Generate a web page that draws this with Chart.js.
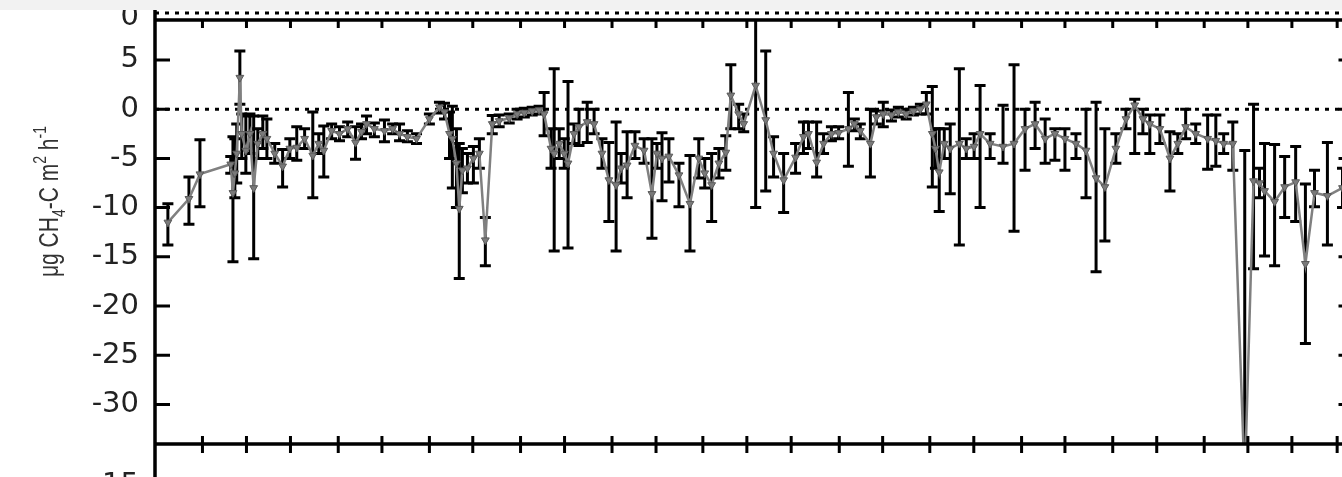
<!DOCTYPE html>
<html><head><meta charset="utf-8">
<script src="https://cdn.jsdelivr.net/npm/chart.js@4.4.1/dist/chart.umd.min.js"></script>
<style>
html,body{margin:0;padding:0;background:#fff;overflow:hidden;width:1342px;height:477px}
#wrap{position:absolute;left:0;top:0;width:1362px;height:477px}
#band{position:absolute;left:0;top:0;width:1342px;height:10px;background:#f2f2f2;z-index:2}
</style></head><body>
<div id="band"></div>
<div id="wrap"><canvas id="c" width="1362" height="477"></canvas></div>
<script>
// day of record (x), flux (y) and error bar limits
const DAYS = [4.1,10.8,14.3,24.1,24.8,25.4,26.0,27.0,27.6,28.9,30.2,31.4,32.7,34.3,35.6,38.1,40.6,42.9,45.1,47.6,50.2,52.1,53.7,56.2,58.7,61.3,63.8,65.7,67.3,69.8,73.0,75.6,77.8,80.3,83.2,87.3,90.5,92.1,93.7,94.6,95.9,96.8,97.8,99.4,101.3,103.2,105.1,107.3,109.5,112.7,115.2,117.5,120.0,122.2,123.8,
126.0,127.0,128.6,130.2,131.4,133.3,134.9,137.5,139.7,142.2,144.4,146.7,148.3,150.2,152.7,155.6,158.1,159.7,161.3,163.5,166.7,170.2,173.0,174.9,177.1,179.4,181.6,183.2,185.7,187.3,191.1,194.3,196.8,200.0,203.8,206.3,207.9,210.5,212.7,215.2,217.5,220.6,222.5,224.4,227.6,229.5,231.7,234.3,236.5,239.0,241.3,243.5,245.4,
247.3,248.3,249.5,251.1,253.0,255.9,258.1,260.6,262.5,265.7,269.8,273.3,276.8,280.0,283.2,286.3,289.5,293.0,296.2,299.4,302.2,305.7,308.9,311.7,314.3,316.5,319.7,322.9,325.4,327.9,331.1,334.9,337.5,340.0,342.9,346.7,349.5,351.4,353.0,356.2,359.4,362.9,366.0,368.9,373.0,377.8];
const FLUX = [-11.5,-9.1,-6.6,-5.6,-8.5,-6.5,-4.5,3.2,-2.5,-4.2,-2.5,-8.0,-3.5,-2.5,-3.0,-4.5,-5.8,-4.0,-3.9,-3.0,-4.7,-3.5,-4.2,-2.2,-2.5,-2.0,-3.4,-2.3,-1.5,-2.0,-2.2,-2.0,-2.5,-2.8,-3.0,-1.0,0.2,-0.3,-2.5,-3.0,-5.5,-10.1,-6.2,-6.0,-5.0,-4.5,-13.3,-1.5,-1.2,-0.9,-0.5,-0.35,-0.2,-0.1,-0.5,
-4.0,-4.5,-3.5,-4.5,-5.5,-2.5,-1.8,-1.3,-1.5,-4.5,-7.2,-7.7,-6.0,-5.7,-3.7,-4.2,-8.6,-4.5,-5.0,-4.8,-6.7,-9.6,-5.0,-6.5,-7.7,-5.5,-4.4,1.4,-0.5,-1.5,2.4,-1.1,-4.5,-7.2,-4.9,-2.8,-2.5,-5.4,-3.5,-2.5,-2.4,-2.0,-1.5,-2.2,-3.5,-0.8,-0.5,-0.6,-0.3,-0.5,-0.2,0.0,0.5,
-2.5,-4.0,-6.4,-3.5,-4.0,-3.5,-4.0,-3.8,-2.5,-3.5,-3.8,-3.5,-2.0,-1.5,-3.0,-2.5,-3.0,-3.5,-4.2,-7.0,-7.9,-4.0,-1.0,0.4,-1.0,-1.5,-2.0,-5.0,-3.5,-1.8,-2.5,-3.0,-3.2,-3.5,-3.5,-38,-7.3,-7.5,-8.3,-9.4,-7.9,-7.4,-15.7,-8.5,-8.8,-8.0];
const ERR_LO = [-13.8,-11.7,-9.9,-6.5,-15.5,-9,-7.5,0.5,-5,-6.5,-4.5,-15.2,-5,-4,-5,-5.5,-7.9,-5,-5.2,-4,-9,-4.5,-6.9,-3,-3.2,-2.8,-5.1,-3,-2.5,-2.8,-3.3,-2.5,-3.2,-3.3,-3.5,-1.5,-0.4,-1,-5,-8,-10,-17.2,-8.5,-7.5,-7.5,-6,-15.9,-2.5,-1.8,-1.4,-1,-0.8,-0.6,-0.5,-2.7,
-6,-14.4,-5,-6,-14.1,-3.5,-3.7,-3.4,-2.5,-6,-11.4,-14.4,-7.5,-9,-5,-5.5,-13.1,-6,-9.3,-7.4,-9.9,-14.4,-7,-8,-11.4,-7,-6.2,-2,-2,-2.3,-10,-8.3,-6.9,-10.5,-6.5,-4.5,-4,-6.9,-4.5,-3.2,-3,-5.8,-2.2,-3,-6.9,-1.5,-1.8,-1.2,-0.8,-1,-0.6,-0.5,-0.5,
-7.9,-6,-10.4,-5,-8.6,-13.8,-5,-5,-10,-5,-5.5,-12.4,-6.2,-4,-5.5,-5.2,-6.2,-5,-9,-16.5,-13.4,-5.5,-2,-4.5,-2.5,-4.5,-3.5,-8.3,-4.5,-3,-3.5,-6.1,-5.8,-4.5,-6.2,-45,-16.2,-9,-14.9,-15.9,-11,-11.4,-23.8,-9.9,-13.8,-10];
const ERR_HI = [-9.6,-6.9,-3.1,-4.8,-2.8,-3,-1.5,5.9,-0.5,-0.7,-0.5,-0.7,-2,-0.7,-1,-3.5,-4.1,-3,-1.8,-2,-0.3,-2.5,-1.7,-1.5,-1.8,-1.3,-1.8,-1.5,-0.7,-1.4,-1.1,-1.5,-1.5,-2.2,-2.5,-0.5,0.7,0.6,-0.3,0.3,-2,-3.5,-4,-4.5,-3.8,-3,-11,-0.65,-0.6,-0.5,0,0.1,0.2,0.3,1.7,
-2,4.1,-2,-3,2.8,-1.5,0,0.7,0,-3,-3.4,-1.3,-4.5,-2.3,-2.3,-3,-3,-3.5,-2.4,-3,-5.5,-4.7,-3,-5,-4.5,-4,-2.7,4.5,0.5,-0.5,9.5,5.9,-2.8,-4.5,-3.5,-1.3,-1.3,-1.3,-2.5,-1.8,-1.8,1.7,-1,-1.5,0,-0.2,0.7,-0.1,0.2,0,0.2,0.5,1.7,
2.3,-2,-2,-2,-1.5,4.1,-3,-2.5,2.4,-2.5,0.4,4.5,0,0.7,-1,-2,-2,-2.5,0,0.7,-2,-2.5,0,1,0,-0.6,-0.6,-2.3,-2.5,0,-1.5,-0.6,-0.6,-2.5,-1.3,-4.2,0.5,-6,-3.5,-3.6,-4.8,-3.8,-7.6,-6.2,-3.4,-6];
const Y_TICKS = [-30,-25,-20,-15,-10,-5,0,5];
const X_TICKS = [15.1,29.1,43.1,58.3,72.2,87.3,101.1,116.3,130.3,145.4,159.4,174.3,188.3,202.4,217.7,231.5,246.5,260.5,275.7,289.5,304.7,318.7,333.8,347.7,361.7,376.1];
const X_RANGE = [0, 381.3];
const Y_RANGE = [-34.0, 9.05];
const Y_TITLE_PARTS = [['μg CH',0],['4',1],['-C m',0],['2',-1],[' h',0],['-1',-1]];
const UPPER_LABEL = '0';
const LOWER_LABEL = '15';

const flux = DAYS.map((d,i)=>({x:d,y:FLUX[i]}));
const bars = [];
const caps = [];
DAYS.forEach((d,i)=>{
  bars.push({x:d,y:ERR_LO[i]},{x:d,y:ERR_HI[i]},{x:d,y:null});
  caps.push({x:d,y:ERR_LO[i]},{x:d,y:ERR_HI[i]});
});
const zero = [{x:X_RANGE[0],y:0},{x:X_RANGE[1],y:0}];

const extras = {
  id:'extras',
  afterDraw(chart){
    const {ctx, chartArea:a, scales:{x,y}} = chart;
    ctx.save();
    ctx.strokeStyle='#000';
    ctx.lineCap='butt';
    ctx.lineWidth=3;
    ctx.beginPath();
    X_TICKS.forEach(t=>{const px=x.getPixelForValue(t);
      ctx.moveTo(px,a.top); ctx.lineTo(px,a.top+8);
      ctx.moveTo(px,a.bottom-8); ctx.lineTo(px,a.bottom+9);});
    Y_TICKS.forEach(t=>{const py=y.getPixelForValue(t);
      ctx.moveTo(a.left,py); ctx.lineTo(a.left+15,py);
      ctx.moveTo(a.right,py); ctx.lineTo(a.right-15,py);});
    ctx.stroke();
    ctx.lineWidth=3.5;
    ctx.beginPath();
    ctx.moveTo(a.left,0); ctx.lineTo(a.left,chart.height);
    ctx.moveTo(a.left,a.top); ctx.lineTo(a.right,a.top);
    ctx.moveTo(a.left,a.bottom); ctx.lineTo(a.right,a.bottom);
    ctx.moveTo(a.right,a.top); ctx.lineTo(a.right,a.bottom);
    ctx.stroke();
    // bottom of the panel above: its zero line
    ctx.lineWidth=3;
    ctx.setLineDash([4,6]);
    ctx.beginPath(); ctx.moveTo(a.left,a.top-7); ctx.lineTo(a.right,a.top-7); ctx.stroke();
    ctx.setLineDash([]);
    // partial labels of neighbouring panels
    ctx.fillStyle='#222';
    ctx.font='29px "DejaVu Sans"';
    ctx.textAlign='right'; ctx.textBaseline='middle';
    ctx.fillText(UPPER_LABEL, a.left-16, a.top-3);
    ctx.fillText(LOWER_LABEL, a.left-16, a.bottom+41);
    // y title with sub/superscripts
    ctx.translate(58, 277);
    ctx.rotate(-Math.PI/2);
    ctx.scale(1,1.35);
    ctx.textAlign='left'; ctx.textBaseline='alphabetic';
    ctx.fillStyle='#333';
    let cx=0;
    Y_TITLE_PARTS.forEach(([t,k])=>{
      const fs = k===0?21:14;
      ctx.font = fs+'px "Liberation Sans"';
      const dy = k===0?0:(k>0?5:-9);
      ctx.fillText(t,cx,dy);
      cx += ctx.measureText(t).width;
    });
    ctx.restore();
  }
};

new Chart(document.getElementById('c'),{
  type:'line',
  data:{datasets:[
    {data:zero,borderColor:'#000',borderWidth:3,borderDash:[4,6],pointRadius:0,order:3},
    {data:bars,borderColor:'#000',borderWidth:3,pointRadius:0,spanGaps:false,order:2},
    {data:caps,showLine:false,pointStyle:'line',pointRadius:5.5,pointBorderWidth:3,pointBorderColor:'#000',order:2},
    {data:flux,borderColor:'#808080',borderWidth:2.5,pointStyle:'triangle',rotation:180,pointRadius:4.5,
     pointBackgroundColor:'#7a7a7a',pointBorderColor:'#5a5a5a',pointBorderWidth:1,order:1}
  ]},
  options:{
    responsive:false, animation:false, devicePixelRatio:1,
    layout:{padding:{top:20,bottom:33,left:0,right:6}},
    plugins:{legend:{display:false},tooltip:{enabled:false}},
    scales:{
      x:{type:'linear',min:X_RANGE[0],max:X_RANGE[1],grid:{display:false,drawTicks:false},border:{display:false},
         ticks:{display:false},afterFit(s){s.height=0;s.paddingLeft=0;s.paddingRight=0;}},
      y:{type:'linear',min:Y_RANGE[0],max:Y_RANGE[1],grid:{display:false,drawTicks:false},border:{display:false},
         ticks:{padding:16,color:'#222',font:{family:'DejaVu Sans',size:29}},
         afterBuildTicks(s){s.ticks=Y_TICKS.map(v=>({value:v}));},
         afterFit(s){s.width=155;s.paddingTop=0;s.paddingBottom=0;}}
    }
  },
  plugins:[extras]
});
</script>
</body></html>
